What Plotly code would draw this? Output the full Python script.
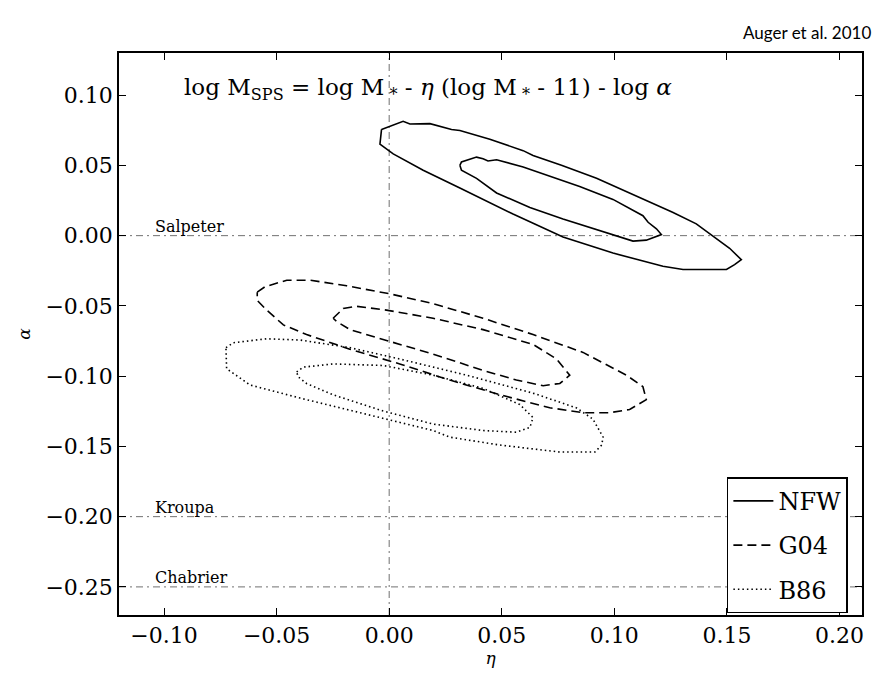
import plotly.graph_objects as go

# ---- data ----
nfw_outer_eta = [-0.0034, 0.0062, 0.0092, 0.0181, 0.0277, 0.0314, 0.0447, 0.0595, 0.0639, 0.0765, 0.0921, 0.1068,
                 0.1261, 0.1364, 0.1453, 0.1512, 0.1564, 0.1534, 0.1498, 0.1305, 0.1216, 0.0994, 0.0772, 0.0550,
                 0.0314, 0.0151, 0.0018, -0.0041, -0.0034]
nfw_outer_alpha = [0.0756, 0.0814, 0.0795, 0.0797, 0.0756, 0.0749, 0.0686, 0.0605, 0.0571, 0.0501, 0.0408, 0.0304,
                   0.0165, 0.0084, -0.0020, -0.0090, -0.0171, -0.0206, -0.0241, -0.0241, -0.0218, -0.0124, -0.0009,
                   0.0154, 0.0339, 0.0466, 0.0582, 0.0651, 0.0756]
nfw_inner_eta = [0.0314, 0.0321, 0.0388, 0.0417, 0.0439, 0.0477, 0.0595, 0.0699, 0.0846, 0.0994, 0.1127, 0.1150,
                 0.1187, 0.1209, 0.1142, 0.1083, 0.1024, 0.0905, 0.0772, 0.0625, 0.0477, 0.0388, 0.0321, 0.0314]
nfw_inner_alpha = [0.0501, 0.0524, 0.0559, 0.0547, 0.0531, 0.0540, 0.0489, 0.0432, 0.0350, 0.0258, 0.0142, 0.0095,
                   0.0049, 0.0008, -0.0032, -0.0039, -0.0009, 0.0049, 0.0119, 0.0200, 0.0304, 0.0408, 0.0466, 0.0501]

g04_outer_eta = [-0.0586, -0.0552, -0.0455, -0.0352, -0.0189, 0.0003, 0.0195, 0.0417, 0.0639, 0.0861, 0.1054,
                 0.1127, 0.1142, 0.1068, 0.0980, 0.0861, 0.0713, 0.0491, 0.0269, 0.0047, -0.0175, -0.0367, -0.0470,
                 -0.0544, -0.0586, -0.0586]
g04_outer_alpha = [-0.0402, -0.0364, -0.0317, -0.0317, -0.0357, -0.0414, -0.0484, -0.0588, -0.0704, -0.0831,
                   -0.0993, -0.1075, -0.1167, -0.1237, -0.1260, -0.1260, -0.1225, -0.1132, -0.1028, -0.0913,
                   -0.0808, -0.0704, -0.0635, -0.0530, -0.0461, -0.0402]
g04_inner_eta = [-0.0249, -0.0204, -0.0145, -0.0012, 0.0195, 0.0417, 0.0639, 0.0743, 0.0802, 0.0758, 0.0684,
                 0.0565, 0.0417, 0.0195, -0.0027, -0.0174, -0.0233, -0.0249]
g04_inner_alpha = [-0.0588, -0.0519, -0.0503, -0.0530, -0.0588, -0.0669, -0.0774, -0.0878, -0.0993, -0.1052,
                   -0.1068, -0.1028, -0.0959, -0.0843, -0.0739, -0.0669, -0.0611, -0.0588]

b86_outer_eta = [-0.0725, -0.0692, -0.0544, -0.0396, -0.0175, 0.0047, 0.0344, 0.0639, 0.0832, 0.0905, 0.0950,
                 0.0944, 0.0914, 0.0757, 0.0490, 0.0269, 0.0195, -0.0100, -0.0396, -0.0618, -0.0722, -0.0725]
b86_outer_alpha = [-0.0797, -0.0762, -0.0734, -0.0743, -0.0797, -0.0878, -0.0993, -0.1121, -0.1226, -0.1306,
                   -0.1434, -0.1490, -0.1540, -0.1540, -0.1490, -0.1434, -0.1387, -0.1271, -0.1156, -0.1063,
                   -0.0947, -0.0797]
b86_inner_eta = [-0.0411, -0.0382, -0.0249, -0.0027, 0.0195, 0.0417, 0.0580, 0.0639, 0.0625, 0.0565, 0.0417,
                 0.0195, -0.0027, -0.0249, -0.0367, -0.0404, -0.0411]
b86_inner_alpha = [-0.0970, -0.0936, -0.0913, -0.0924, -0.0993, -0.1087, -0.1202, -0.1295, -0.1365, -0.1399,
                   -0.1387, -0.1341, -0.1248, -0.1133, -0.1052, -0.1005, -0.0970]

imf_names = ["Salpeter", "Kroupa", "Chabrier"]
imf_alpha = [0.0, -0.20, -0.25]

x_ticks = [-0.10, -0.05, 0.00, 0.05, 0.10, 0.15, 0.20]
y_ticks = [0.10, 0.05, 0.00, -0.05, -0.10, -0.15, -0.20, -0.25]


def fmt(v):
    s = f"{abs(v):.2f}"
    return ("\u2212" + s) if v < -1e-9 else s


SERIF = "DejaVu Serif, Liberation Serif, serif"
fig = go.Figure()

series = [
    ("NFW", "solid", nfw_outer_eta, nfw_outer_alpha, nfw_inner_eta, nfw_inner_alpha),
    ("G04", "9px,5px", g04_outer_eta, g04_outer_alpha, g04_inner_eta, g04_inner_alpha),
    ("B86", "1.5px,3px", b86_outer_eta, b86_outer_alpha, b86_inner_eta, b86_inner_alpha),
]
for name, dash, ox, oy, ix, iy in series:
    fig.add_trace(go.Scatter(x=ox, y=oy, mode="lines", name=name, legendgroup=name,
                             line=dict(color="black", width=1.6, dash=dash)))
    fig.add_trace(go.Scatter(x=ix, y=iy, mode="lines", name=name, legendgroup=name, showlegend=False,
                             line=dict(color="black", width=1.6, dash=dash)))

for nm, a in zip(imf_names, imf_alpha):
    fig.add_hline(y=a, line=dict(color="#707070", width=1, dash="7px,4px,2px,4px"), layer="below")
    fig.add_annotation(x=-0.105, y=a, text=nm, showarrow=False, xanchor="left", yanchor="bottom",
                       yshift=-2, font=dict(family=SERIF, size=16, color="black"))
fig.add_vline(x=0.0, line=dict(color="#707070", width=1, dash="7px,4px,2px,4px"), layer="below")

fig.add_annotation(xref="paper", yref="paper", x=0.416, y=0.966, showarrow=False,
                   text="log M<sub>SPS</sub> = log M<sub> *</sub> - <i>η</i> (log M<sub> *</sub> - 11) - log <i>α</i>",
                   font=dict(family=SERIF, size=23, color="black"))
fig.add_annotation(xref="paper", yref="paper", x=1.0, y=1.0, xanchor="right", yanchor="bottom",
                   yshift=8, xshift=11, showarrow=False, text="Auger et al. 2010",
                   font=dict(family="Lato", size=17, color="black"))

axis_common = dict(showgrid=False, zeroline=False, showline=True, linecolor="black", linewidth=1.5,
                   mirror="ticks", ticks="inside", ticklen=7, tickcolor="black", tickwidth=1,
                   tickfont=dict(family=SERIF, size=22, color="black"))
fig.update_xaxes(range=[-0.12, 0.21], tickvals=x_ticks, ticktext=[fmt(v) for v in x_ticks],
                 title=dict(text="<i>η</i>", font=dict(family=SERIF, size=17), standoff=2), **axis_common)
fig.update_yaxes(range=[-0.27, 0.13], tickvals=y_ticks, ticktext=[fmt(v) for v in y_ticks],
                 title=dict(text="<i>α</i>", font=dict(family=SERIF, size=17), standoff=10), **axis_common)

fig.update_layout(
    width=883, height=674, margin=dict(l=119, r=21, t=53, b=46),
    plot_bgcolor="white", paper_bgcolor="white",
    font=dict(family=SERIF, color="black"),
    legend=dict(x=0.981, y=0.003, xanchor="right", yanchor="bottom", bgcolor="white",
                bordercolor="black", borderwidth=1.5, font=dict(family=SERIF, size=24, color="black"),
                itemwidth=40),
)

fig.write_html("out.html")
